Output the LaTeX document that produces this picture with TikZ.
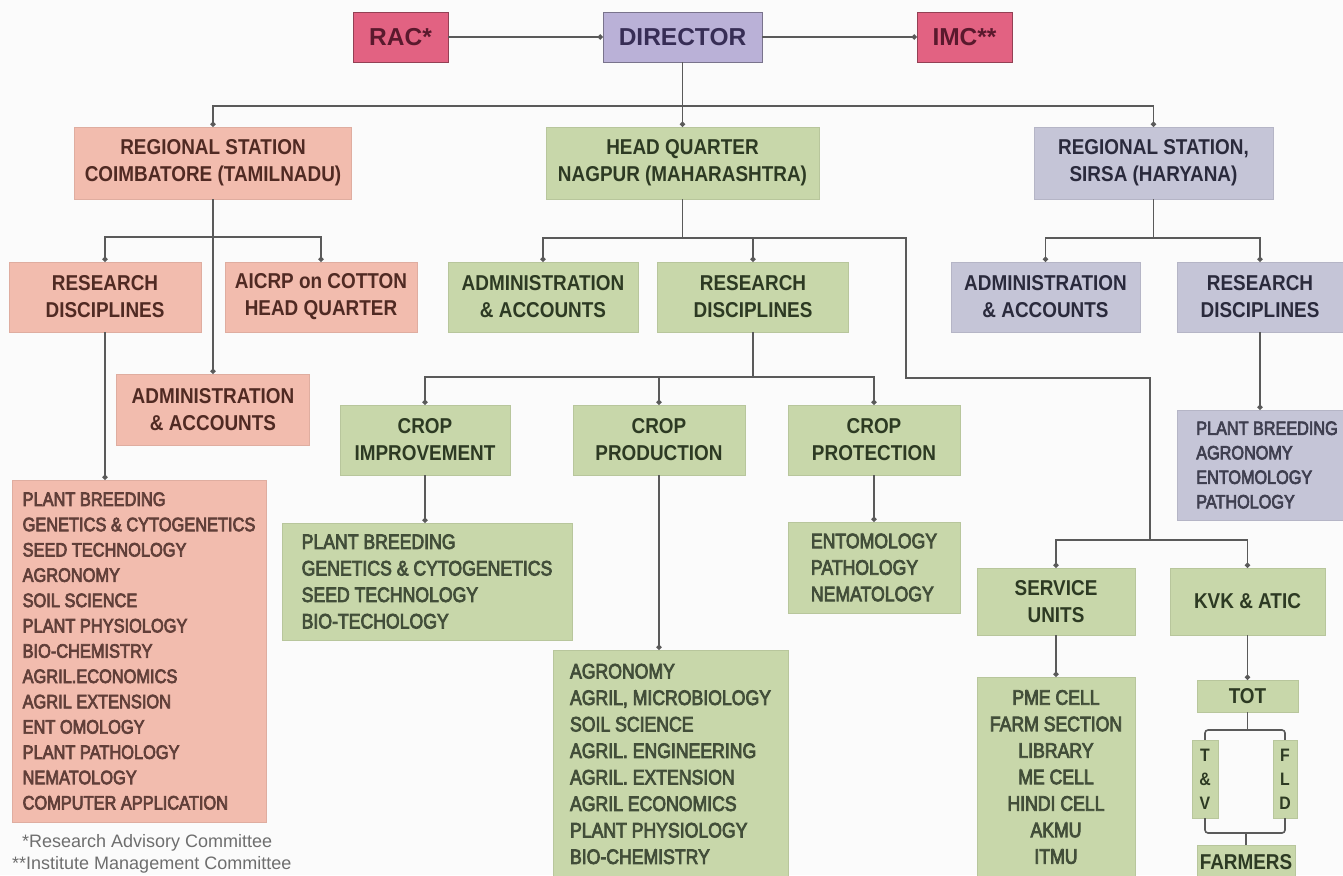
\documentclass[tikz,border=0pt]{standalone}
\usepackage{fontspec}
\setmainfont{Liberation Sans}
\newfontfamily\headfont[FakeStretch=0.88]{Liberation Sans}
\newfontfamily\listfont[FakeStretch=0.84,FakeBold=3.5]{Liberation Sans}
\usetikzlibrary{arrows.meta}

\definecolor{racred}{RGB}{226,98,130}
\definecolor{racink}{RGB}{90,25,45}
\definecolor{dirlav}{RGB}{186,177,215}
\definecolor{dirink}{RGB}{55,45,85}
\definecolor{salmon}{RGB}{242,188,174}
\definecolor{redink}{RGB}{80,42,35}
\definecolor{leaf}{RGB}{200,215,170}
\definecolor{greenink}{RGB}{45,58,35}
\definecolor{steel}{RGB}{197,197,215}
\definecolor{greyink}{RGB}{42,42,60}
\definecolor{linegray}{RGB}{90,90,90}
\definecolor{notegray}{RGB}{110,110,110}

\tikzset{
	orgbox/.style={inner sep=0pt, align=center, minimum height=70, line width=0.4pt},
	topbox/.style={orgbox, minimum height=50, draw=#1!65!black, fill=#1, font=\bfseries\fontsize{24.5}{28}\selectfont},
	headbox/.style={orgbox, draw=#1!92!black, fill=#1, font=\headfont\bfseries\fontsize{21.5}{27}\selectfont},
	redbox/.style={headbox=salmon, text=redink},
	greenbox/.style={headbox=leaf, text=greenink},
	greybox/.style={headbox=steel, text=greyink},
	listbox/.style={orgbox, align=left, draw=#1!92!black, fill=#1},
	redlist/.style={listbox=salmon, text=redink!90, font=\listfont\fontsize{19.5}{25.3}\selectfont},
	greenlist/.style={listbox=leaf, text=greenink!90, font=\listfont\fontsize{21}{26.5}\selectfont},
	greylist/.style={listbox=steel, text=greyink!90, font=\listfont\fontsize{19.3}{24.5}\selectfont},
	wire/.style={draw=linegray, line width=1.6pt},
	wiretip/.style={wire, -{Circle[length=5pt]}},
	fnote/.style={inner sep=0pt, text=notegray, font=\fontsize{18}{24}\selectfont}
}

\begin{document}
\begin{tikzpicture}[x=1pt,y=-1pt]
	\useasboundingbox[fill=gray!3] (0,0) rectangle (1343,875);

	\node[topbox=racred, text=racink, minimum width=95] (rac) at (400.5,37) {RAC*};
	\node[topbox=dirlav, text=dirink, minimum width=159] (director) at (682.5,37) {DIRECTOR};
	\node[topbox=racred, text=racink, minimum width=95] (imc) at (964.5,37) {IMC**};

	\node[redbox, minimum width=277, minimum height=72] (cbe) at (213,163) {REGIONAL STATION\\COIMBATORE (TAMILNADU)};
	\node[greenbox, minimum width=273, minimum height=72] (hq) at (682.5,163) {HEAD QUARTER\\NAGPUR (MAHARASHTRA)};
	\node[greybox, minimum width=239, minimum height=72] (sirsa) at (1153.5,163) {REGIONAL STATION,\\SIRSA (HARYANA)};

	\node[redbox, minimum width=192] (cberes) at (105,297) {RESEARCH\\DISCIPLINES};
	\node[redbox, minimum width=192] (aicrp) at (321,297) {AICRP on COTTON\\HEAD QUARTER};
	\node[redbox, minimum width=193, minimum height=71] (cbeadm) at (213,409.5) {ADMINISTRATION\\\& ACCOUNTS};
	\node[redlist, minimum width=254, minimum height=342] (cbelist) at (139,651) {PLANT BREEDING\\GENETICS \& CYTOGENETICS\\SEED TECHNOLOGY\\AGRONOMY\\SOIL SCIENCE\\PLANT PHYSIOLOGY\\BIO-CHEMISTRY\\AGRIL.ECONOMICS\\AGRIL EXTENSION\\ENT OMOLOGY\\PLANT PATHOLOGY\\NEMATOLOGY\\COMPUTER APPLICATION};

	\node[greenbox, minimum width=190] (hqadm) at (543,297) {ADMINISTRATION\\\& ACCOUNTS};
	\node[greenbox, minimum width=191] (hqres) at (753,297) {RESEARCH\\DISCIPLINES};
	\node[greenbox, minimum width=170] (crimp) at (425,440) {CROP\\IMPROVEMENT};
	\node[greenbox, minimum width=172] (crprod) at (659,440) {CROP\\PRODUCTION};
	\node[greenbox, minimum width=172] (crprot) at (874,440) {CROP\\PROTECTION};
	\node[greenlist, minimum width=290, minimum height=117] (implist) at (427,581.5) {PLANT BREEDING\\GENETICS \& CYTOGENETICS\\SEED TECHNOLOGY\\BIO-TECHOLOGY};
	\node[greenlist, minimum width=235, minimum height=228] (prodlist) at (670.5,764) {AGRONOMY\\AGRIL, MICROBIOLOGY\\SOIL SCIENCE\\AGRIL. ENGINEERING\\AGRIL. EXTENSION\\AGRIL ECONOMICS\\PLANT PHYSIOLOGY\\BIO-CHEMISTRY};
	\node[greenlist, minimum width=172, minimum height=91] (protlist) at (874,567.5) {ENTOMOLOGY\\PATHOLOGY\\NEMATOLOGY};
	\node[greenbox, minimum width=158, minimum height=67] (svc) at (1056,601.5) {SERVICE\\UNITS};
	\node[greenbox, minimum width=155, minimum height=67] (kvk) at (1247.5,601.5) {KVK \& ATIC};
	\node[greenlist, align=center, minimum width=158, minimum height=200] (svclist) at (1056,777) {PME CELL\\FARM SECTION\\LIBRARY\\ME CELL\\HINDI CELL\\AKMU\\ITMU};
	\node[greenbox, minimum width=101, minimum height=32] (tot) at (1247.5,696) {TOT};
	\node[greenbox, minimum width=26, minimum height=78, font=\headfont\bfseries\fontsize{18}{24}\selectfont] (tv) at (1205,779) {T\\\&\\V};
	\node[greenbox, minimum width=24, minimum height=78, font=\headfont\bfseries\fontsize{18}{24}\selectfont] (fld) at (1285,779) {F\\L\\D};
	\node[greenbox, minimum width=98, minimum height=34] (farmers) at (1246,862) {FARMERS};

	\node[greybox, minimum width=189] (sradm) at (1045.5,297) {ADMINISTRATION\\\& ACCOUNTS};
	\node[greybox, minimum width=166] (srres) at (1260,297) {RESEARCH\\DISCIPLINES};
	\node[greylist, minimum width=180, minimum height=110] (srlist) at (1267,465) {PLANT BREEDING\\AGRONOMY\\ENTOMOLOGY\\PATHOLOGY};

	\node[fnote, anchor=base west] (fnrac) at (22,847) {*Research Advisory Committee};
	\node[fnote, anchor=base west] (fnimc) at (12,869) {**Institute Management Committee};

	\draw[wiretip] (rac) -- (director);
	\draw[wiretip] (director) -- (imc);
	\coordinate (topbar) at (682.5,106);
	\draw[wire] (director) -- (topbar);
	\draw[wiretip] (topbar) -| (cbe);
	\draw[wiretip] (topbar) -- (hq);
	\draw[wiretip] (topbar) -| (sirsa);

	\coordinate (cbebar) at (213,237);
	\draw[wiretip] (cbe) -- (cbeadm);
	\draw[wiretip] (cbebar) -| (cberes);
	\draw[wiretip] (cbebar) -| (aicrp);
	\draw[wiretip] (cberes) -- (cberes |- cbelist.north);

	\coordinate (hqbar) at (682.5,238);
	\coordinate (bend) at (906,378);
	\coordinate (unitbar) at (1150,540);
	\draw[wire] (hq) -- (hqbar);
	\draw[wiretip] (hqbar) -| (hqadm);
	\draw[wiretip] (hqbar) -| (hqres);
	\draw[wire] (hqbar) -| (bend) -| (unitbar);
	\draw[wiretip] (unitbar) -| (svc);
	\draw[wiretip] (unitbar) -| (kvk);

	\coordinate (resbar) at (753,377);
	\draw[wire] (hqres) -- (resbar);
	\draw[wiretip] (resbar) -| (crimp);
	\draw[wiretip] (resbar) -| (crprod);
	\draw[wiretip] (resbar) -| (crprot);
	\draw[wiretip] (crimp) -- (crimp |- implist.north);
	\draw[wiretip] (crprod) -- (crprod |- prodlist.north);
	\draw[wiretip] (crprot) -- (protlist);
	\draw[wiretip] (svc) -- (svclist);
	\draw[wiretip] (kvk) -- (tot);

	\coordinate (totbar) at (1247.5,730);
	\coordinate (farmbar) at (1246,833);
	\draw[wire] (tot) -- (totbar);
	\draw[wire, rounded corners=3pt] (tv.north) |- (totbar) -| (fld.north);
	\draw[wire, rounded corners=3pt] (tv.south) |- (farmbar) -| (fld.south);
	\draw[wire] (farmbar) -- (farmers);

	\coordinate (srbar) at (1153.5,238);
	\draw[wire] (sirsa) -- (srbar);
	\draw[wiretip] (srbar) -| (sradm);
	\draw[wiretip] (srbar) -| (srres);
	\draw[wiretip] (srres) -- (srres |- srlist.north);
\end{tikzpicture}
\end{document}
